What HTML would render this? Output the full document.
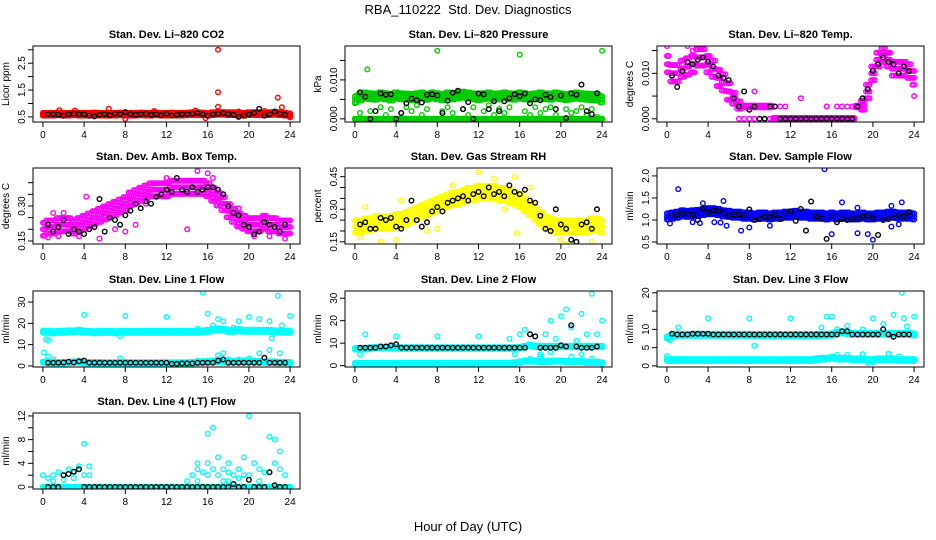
<!DOCTYPE html>
<html><head><meta charset="utf-8"><style>
body{margin:0;background:#fff}
svg{display:block;font-family:"Liberation Sans",sans-serif}
</style></head><body>
<svg id="c" width="936" height="540" viewBox="0 0 936 540">
<rect width="936" height="540" fill="#fff"/>
<text x="468" y="14" text-anchor="middle" font-size="13" xml:space="preserve">RBA_110222  Std. Dev. Diagnostics</text>
<text x="468" y="531" text-anchor="middle" font-size="13">Hour of Day (UTC)</text>
</svg>
<script>
// ---------- data ----------
const hourTicks = [0,4,8,12,16,20,24];
// CO2
const co2Band = [0.6,0.6,0.6,0.61,0.6,0.6,0.61,0.6,0.6,0.6,0.61,0.6,0.6,0.6,0.6,0.61,0.6,0.6,0.6,0.61,0.6,0.6,0.61,0.6,0.6,0.61,0.6,0.6,0.61,0.62,0.62,0.61,0.6,0.62,0.63,0.63,0.62,0.62,0.6,0.6,0.62,0.62,0.62,0.61,0.62,0.63,0.62,0.6,0.58];
const co2Scatter = [[1.6,0.75],[3.1,0.74],[6.4,0.8],[8,0.42],[10.8,0.72],[14.8,0.74],[15.8,0.45],[17,3.0],[17,1.42],[17,0.88],[19,0.7],[21.5,0.72],[22.8,1.22],[23.2,0.86],[24,0.48]];
const co2Black = [0.6,0.6,0.58,0.55,0.6,0.62,0.6,0.6,0.55,0.52,0.58,0.6,0.56,0.62,0.6,0.68,0.6,0.58,0.6,0.62,0.58,0.6,0.56,0.62,0.55,0.58,0.6,0.6,0.62,0.65,0.6,0.55,0.6,0.62,0.64,0.6,0.58,0.5,0.55,0.6,0.65,0.8,0.55,0.6,0.7,0.62,0.58];
// Pressure
const presZero = [0,0,0,0,0,0,0,0,0,0,0,0,0,0,0,0,0,0,0,0,0,0,0,0,0,0,0,0,0,0,0,0,0,0,0,0,0,0,0,0,0,0,0,0,0,0,0,0,0];
const presBand = [0.005,0.0055,0.006,0.0058,0.0057,0.006,0.0058,0.0055,0.006,0.0058,0.0057,0.0056,0.0058,0.006,0.0057,0.006,0.0058,0.0056,0.006,0.0058,0.006,0.0062,0.006,0.0058,0.0056,0.0058,0.006,0.0057,0.0058,0.006,0.0058,0.0057,0.006,0.0058,0.0056,0.0058,0.006,0.0058,0.0057,0.006,0.0058,0.0056,0.0058,0.006,0.0058,0.0057,0.0056,0.0055,0.005];
const presScatter = [[0,0.004],[0.5,0.0015],[1.2,0.0127],[1.5,0.002],[2.5,0.003],[3,0.001],[3.5,0.0025],[4.5,0.0015],[5,0.003],[5.5,0.002],[6,0.0035],[6.5,0.001],[7,0.0025],[8,0.0175],[8.5,0.002],[9,0.003],[9.5,0.0015],[10.5,0.0025],[11,0.001],[11.5,0.003],[12.5,0.002],[13,0.0035],[13.5,0.001],[14,0.0025],[14.5,0.0015],[15,0.003],[16,0.0165],[16.5,0.002],[17,0.001],[17.5,0.003],[18,0.0015],[18.5,0.0025],[19,0.003],[19.5,0.001],[20.5,0.0025],[21,0.0015],[21.5,0.002],[22,0.003],[22.5,0.001],[23,0.0025],[23.5,0.0005],[24,0.0175]];
const presBlack = [0.0068,0.0057,0,0.002,0.0065,0.0062,0.0063,0,0.0015,0.004,0.0052,0.0048,0.0042,0.0062,0.0063,0.006,0.0015,0.0047,0.0067,0.0072,0.0025,0.0043,0,0.0065,0.0063,0.0025,0.0045,0.002,0.0045,0.0053,0.0063,0.0058,0.0065,0.004,0.005,0.0048,0.0062,0.0056,0.0025,0.006,0.0002,0.0065,0.0062,0.0088,0.002,0.0012,0.0066];
// Li-820 temp
const tempBand = [0.012,0.010,0.010,0.011,0.0115,0.012,0.0135,0.0135,0.012,0.011,0.009,0.008,0.006,0.0045,0.003,0.0027,0.0027,0.0027,0.0027,0.0027,0.0027,0,0,0,0,0,0,0,0,0,0,0,0,0,0,0,0,0.0027,0.003,0.006,0.010,0.013,0.014,0.013,0.011,0.011,0.011,0.0105,0.009];
const tempSpread = [0.0018,0.0018,0.0018,0.0018,0.0018,0.0018,0.0018,0.0018,0.0018,0.0018,0.0018,0.0018,0.0018,0.0012,0.0008,0.0002,0.0002,0.0002,0.0002,0.0002,0.0002,0.0002,0.0002,0.0002,0.0002,0.0002,0.0002,0.0002,0.0002,0.0002,0.0002,0.0002,0.0002,0.0002,0.0002,0.0002,0.0002,0.0002,0.001,0.0015,0.0015,0.0015,0.0015,0.0015,0.0015,0.0015,0.0015,0.0015,0.0015];
const tempScatter = [[11,0.0027],[11.5,0.0027],[13,0.0045],[15.5,0.0027],[16.5,0.0027],[17,0.0027],[17.5,0.0027],[18,0.0027],[0,0.016],[2,0.016],[2.5,0.015],[8.5,0.006],[24,0.005],[7,0],[7.5,0],[8,0],[8.5,0],[9,0],[9.5,0],[10,0]];
const tempBlack = [0.0095,0.007,0.0105,0.0125,0.012,0.013,0.0135,0.0125,0.0115,0.0095,0.009,0.0085,0.0045,0.0027,0.006,0.002,0.0027,0,0,0.0027,0.0027,0,0,0,0,0,0,0,0,0,0,0,0,0,0,0,0.0027,0.0045,0.0065,0.0105,0.012,0.0135,0.0125,0.012,0.01,0.0115,0.0105];
// Amb box temp
const ambBand = [0.2,0.21,0.21,0.22,0.22,0.22,0.21,0.22,0.23,0.24,0.25,0.26,0.27,0.28,0.29,0.3,0.31,0.33,0.34,0.35,0.36,0.37,0.37,0.37,0.37,0.38,0.38,0.38,0.38,0.38,0.38,0.38,0.37,0.35,0.33,0.31,0.28,0.26,0.24,0.23,0.22,0.22,0.22,0.23,0.22,0.22,0.21,0.21,0.21];
const ambScatter = [[0.5,0.165],[1.5,0.17],[3.5,0.17],[5.5,0.16],[7,0.2],[8,0.19],[9,0.22],[10,0.31],[12,0.42],[15,0.45],[16,0.44],[14,0.2],[16.5,0.42],[19,0.29],[20.5,0.17],[22,0.17],[23.5,0.16],[4.2,0.34],[2,0.27],[1,0.27]];
const ambBlack = [0.22,0.19,0.21,0.24,0.18,0.2,0.19,0.18,0.2,0.21,0.33,0.19,0.25,0.24,0.22,0.26,0.28,0.31,0.29,0.32,0.31,0.34,0.35,0.37,0.36,0.42,0.37,0.36,0.38,0.36,0.37,0.38,0.38,0.37,0.35,0.3,0.27,0.26,0.22,0.21,0.18,0.19,0.23,0.22,0.21,0.19,0.22];
// RH
const rhBand = [0.22,0.22,0.23,0.23,0.24,0.24,0.24,0.24,0.25,0.25,0.26,0.27,0.28,0.29,0.3,0.31,0.32,0.33,0.34,0.35,0.35,0.36,0.37,0.37,0.38,0.38,0.38,0.38,0.37,0.37,0.36,0.35,0.34,0.32,0.3,0.28,0.26,0.24,0.23,0.22,0.22,0.22,0.22,0.22,0.22,0.22,0.23,0.23,0.22];
const rhScatter = [[0.5,0.17],[1,0.31],[2.5,0.15],[4,0.16],[4.5,0.34],[7,0.2],[8,0.21],[9.5,0.41],[12,0.47],[14.5,0.3],[15.5,0.45],[15.7,0.19],[17,0.4],[20,0.16],[23,0.15],[20.5,0.14],[13.5,0.44]];
const rhBlack = [0.23,0.24,0.21,0.21,0.26,0.25,0.26,0.22,0.21,0.25,0.34,0.25,0.22,0.24,0.29,0.31,0.29,0.33,0.34,0.35,0.36,0.34,0.37,0.38,0.36,0.4,0.37,0.38,0.36,0.41,0.38,0.37,0.39,0.34,0.33,0.27,0.21,0.2,0.3,0.23,0.21,0.16,0.15,0.23,0.24,0.21,0.3];
// Sample flow
const sfBand = [1.08,1.1,1.12,1.15,1.14,1.15,1.16,1.18,1.2,1.2,1.18,1.15,1.14,1.12,1.12,1.1,1.1,1.08,1.1,1.1,1.08,1.1,1.1,1.12,1.12,1.14,1.12,1.12,1.1,1.1,1.1,1.08,1.1,1.08,1.1,1.1,1.08,1.08,1.1,1.08,1.08,1.1,1.1,1.12,1.12,1.1,1.1,1.1,1.08];
const sfScatter = [[1.1,1.7],[15.3,2.15],[20,0.55],[7.2,0.76],[8,0.83],[16,0.68],[18.5,0.7],[19.5,0.68],[2.5,0.95],[3.2,0.93],[5.8,0.87],[10,0.87],[4.6,0.95],[5.2,0.94],[3.5,1.38],[5.5,1.43],[17,1.4],[18.5,1.28],[22.8,1.4],[21.8,1.32],[21.8,0.85],[22.5,0.9],[0.3,0.92]];
const sfBlack = [1.1,1.12,1.15,1.14,1.12,1.0,1.25,1.18,1.22,1.2,1.15,1.1,1.12,1.12,1.1,1.24,1.0,1.02,1.07,1.06,1.12,1.02,1.15,1.2,0.98,1.25,0.76,1.42,1.08,1.03,0.57,1.1,0.95,1.02,1.0,1.02,1.05,1.08,1.1,1.05,0.66,1.0,1.02,1.05,1.1,1.08,1.18];
// Line 1
const l1Band = [16,16,15.8,16,16,16.2,16.2,16.5,16,16,15.8,16,16,16,15.8,16,16,16,16,16,16,16,16,16,16,16,16,16,16,16,16,16.2,16.5,17,17.2,17,16.5,16.5,16.8,16.5,16.5,16.5,16.5,16.5,16.5,16.2,16.2,16,16];
const l1Low = [1.8,1.6,1.5,1.5,1.5,1.6,1.8,1.8,1.6,1.5,1.5,1.5,1.4,1.4,1.4,1.5,1.5,1.4,1.4,1.4,1.4,1.4,1.4,1.4,1.4,1.4,1.4,1.4,1.4,1.5,1.6,1.8,2,2.2,2.2,2.2,2,2,2,2.2,2.2,2,2,1.8,1.8,1.8,1.6,1.6,1.5];
const l1Scatter = [[0.1,6.3],[0.3,12.6],[0.5,12],[0.5,4.5],[4,24],[8,23.5],[7.5,14],[12,23],[15.5,34.5],[16,24.5],[15,17.5],[17,22],[17.5,21],[16.5,19],[18.5,18],[19,21],[20,23],[21,22],[22,21],[22.2,13],[22.8,33],[23.2,19],[24,23.5],[17,5],[17.5,6],[21,6],[22,7.5],[23,6],[1,3],[7.5,3.5],[20,3.5],[19,3],[17,3],[18,3],[15,2.5]];
const l1Black = [1.5,1.5,1.5,1.6,2,1.6,2.2,2.5,1.5,1.5,1.5,1.5,1.5,1.5,1.5,1.5,1.5,1.5,1.5,1.5,1.5,1.5,1.5,1.5,1.0,1.0,1.2,1.2,1.2,1.5,1.5,1.5,1.5,2.5,3,1.5,1.5,1.5,1.5,1.5,1.5,1.5,3.8,1.5,1.5,1.5,1.5];
// Line 2
const l2Band = [7.5,7.5,7.5,7.8,8,8,8,8,8,7.8,7.8,7.8,7.8,7.8,7.8,7.8,7.8,7.8,7.8,7.8,7.8,7.8,7.8,7.8,7.8,7.8,7.8,7.8,7.8,7.8,7.8,7.8,8,8.5,9,8.5,8.5,8.5,8.5,8.5,8.5,8.5,8.5,8.5,8.5,8.5,8.5,8.5,8.5];
const l2Low = [1,1,1,1,1,1,1,1,1,1,1,1,1,1,1,1,1,1,1,1,1,1,1,1,1,1,1,1,1,1,1,1.2,1.5,2,2,2,1.8,1.8,2,2,2,1.8,1.8,1.8,1.8,1.5,1.5,1.5,1.2];
const l2Scatter = [[0.5,5],[1,14],[4,13],[8,13],[12,13],[15,12],[15.5,5],[16,14],[16.5,16],[17,9],[17.5,13],[18,5],[18.5,14],[19,20],[19.5,12],[20,22],[20.5,25],[21,17],[21.5,11],[22,23],[22.5,14],[23,32],[23.5,14],[24,20],[16,2],[17,3],[18,4],[19,6],[20,2],[21,4],[22,5],[23,3]];
const l2Black = [8,8,8,8,8.5,8.5,9,9.5,8,8,8,8,8,8,8,8,8,8,8,8,8,8,8,8,8,8,8,8,8,8,8,8,8,14,13,8,8,8,8,9,8.5,18,8.5,8,8,8,8.5];
// Line 3
const l3Band = [7.8,8.2,8.5,8.5,8.5,8.5,8.5,8.5,8.5,8.5,8.5,8.5,8.5,8.5,8.5,8.5,8.5,8.4,8.4,8.4,8.4,8.4,8.4,8.4,8.4,8.4,8.4,8.4,8.4,8.4,8.5,8.5,8.6,9,9.2,9,8.8,8.8,8.8,8.8,8.8,8.8,8.8,8.8,8.8,8.8,8.8,8.8,8.6];
const l3Low = [1.6,1.6,1.6,1.6,1.6,1.6,1.6,1.6,1.6,1.6,1.6,1.6,1.6,1.6,1.6,1.6,1.6,1.6,1.6,1.6,1.6,1.6,1.6,1.6,1.6,1.6,1.6,1.6,1.6,1.8,2,2,2.2,2,2,2,1.8,1.8,1.8,1.6,1.6,1.8,1.8,1.8,1.8,1.6,1.6,1.6,1.6];
const l3Scatter = [[1.1,10.5],[4,13],[8,13],[8.5,5.5],[12,13],[15,10.5],[15.5,13.5],[16,13.5],[17.5,11],[16.5,10],[19,10],[20,13],[21,11.5],[22,14],[22.8,20],[23,13],[23.3,10.8],[24,13.5],[0,7.5],[0.3,7],[0,2.7],[16.5,3],[17.5,3],[19,3.2],[21.5,3.3],[22.5,2.6],[20,1],[19.5,0.8]];
const l3Black = [8.8,8.6,8.6,8.6,8.8,8.8,8.8,8.8,8.6,8.6,8.6,8.6,8.6,8.6,8.6,8.6,8.6,8.6,8.6,8.6,8.6,8.6,8.6,8.6,8.6,8.6,8.6,8.6,8.6,8.6,8.6,8.6,8.6,9.5,9.5,8.6,8.6,8.6,8.6,8.6,8.6,10,8.6,8,8.6,8.6,8.6];
// Line 4
const l4Band = [0,0,0,0,0,0,0,0,0,0,0,0,0,0,0,0,0,0,0,0,0,0,0,0,0,0,0,0,0,0,0,0,0,0,0,0,0,0,0,0,0,0,0,0,0,0,0,0,0];
const l4Scatter = [[0,2],[0.5,1.5],[1,2],[1.5,2.5],[2,2],[2.5,3],[3,2.5],[3.5,3.5],[4,7.3],[4.5,3.5],[4,2],[3,1.5],[4.5,2],[1,1],[2,1.2],[14.5,2],[15,3],[15,4],[15.5,2.5],[16,9],[16.5,10],[16,4],[16.5,3],[17,5],[17,2],[17.5,3],[18,4],[18,2.5],[18.5,2],[19,3],[19.5,5],[19.5,2],[20,12],[20.5,4],[21,3],[21.5,2.5],[22,8.5],[22.5,8],[22.5,4],[23,3],[23.5,2],[14,1],[15,1],[18,1],[21,1],[16,2],[19,1.5],[20,2],[22,2.5],[17.5,1],[23,6]];
const l4Black = [0,0,0,2,2.2,2.6,3,0,0,0,0,0,0,0,0,0,0,0,0,0,0,0,0,0,0,0,0,0,0,0,0,0,0,0,0,0,0.5,0,0,1.2,0,0,0,2.5,0.3,0,0];

// ---------- layout ----------
const NS = 'http://www.w3.org/2000/svg';
const svg = document.getElementById('c');
const colX = [33, 345, 657], rowY = [46, 168, 291, 413], PW = 267, PH = 76;
const XMIN = -0.96, XMAX = 24.96;
const panels = [
 {name:'co2', title:'Stan. Dev. Li\u2013820 CO2', ylab:'Licor ppm', c:0,r:0, ymin:0.31,ymax:3.14, ticks:[0.5,1,1.5,2,2.5,3], labels:['0.5','','1.5','','2.5',''], col:'#ff0000',
  bands:[[co2Band,0.05]], scatter:co2Scatter, black:co2Black},
 {name:'pressure', title:'Stan. Dev. Li\u2013820 Pressure', ylab:'kPa', c:1,r:0, ymin:-0.0008,ymax:0.0187, ticks:[0,0.005,0.01,0.015], labels:['0.000','','0.010',''], col:'#00cc00',
  bands:[[presZero,0.00005],[presBand,0.0008]], scatter:presScatter, black:presBlack},
 {name:'li820-temp', title:'Stan. Dev. Li\u2013820 Temp.', ylab:'degrees C', c:2,r:0, ymin:-0.0007,ymax:0.016, ticks:[0,0.005,0.01,0.015], labels:['0.000','','0.010',''], col:'#ff00ff',
  bands:[[tempBand,tempSpread]], scatter:tempScatter, black:tempBlack},
 {name:'amb-box-temp', title:'Stan. Dev. Amb. Box Temp.', ylab:'degrees C', c:0,r:1, ymin:0.137,ymax:0.463, ticks:[0.15,0.2,0.25,0.3,0.35,0.4], labels:['0.15','','','0.30','',''], col:'#ff00ff',
  bands:[[ambBand,0.028]], scatter:ambScatter, black:ambBlack},
 {name:'gas-rh', title:'Stan. Dev. Gas Stream RH', ylab:'percent', c:1,r:1, ymin:0.14,ymax:0.49, ticks:[0.15,0.2,0.25,0.3,0.35,0.4,0.45], labels:['0.15','','','0.30','','','0.45'], col:'#ffff00',
  bands:[[rhBand,0.028]], scatter:rhScatter, black:rhBlack},
 {name:'sample-flow', title:'Stan. Dev. Sample Flow', ylab:'ml/min', c:2,r:1, ymin:0.455,ymax:2.18, ticks:[0.5,1,1.5,2], labels:['0.5','1.0','1.5','2.0'], col:'#0000ff',
  bands:[[sfBand,0.07]], scatter:sfScatter, black:sfBlack},
 {name:'line1-flow', title:'Stan. Dev. Line 1 Flow', ylab:'ml/min', c:0,r:2, ymin:-0.5,ymax:35.2, ticks:[0,10,20,30], labels:['0','10','20','30'], col:'#00ffff',
  bands:[[l1Band,0.5],[l1Low,0.35]], scatter:l1Scatter, black:l1Black},
 {name:'line2-flow', title:'Stan. Dev. Line 2 Flow', ylab:'ml/min', c:1,r:2, ymin:-0.6,ymax:33.2, ticks:[0,10,20,30], labels:['0','10','20','30'], col:'#00ffff',
  bands:[[l2Band,0.35],[l2Low,0.3]], scatter:l2Scatter, black:l2Black},
 {name:'line3-flow', title:'Stan. Dev. Line 3 Flow', ylab:'ml/min', c:2,r:2, ymin:-0.3,ymax:20.5, ticks:[0,5,10,15,20], labels:['0','5','10','','20'], col:'#00ffff',
  bands:[[l3Band,0.3],[l3Low,0.25]], scatter:l3Scatter, black:l3Black},
 {name:'line4-flow', title:'Stan. Dev. Line 4 (LT) Flow', ylab:'ml/min', c:0,r:3, ymin:-0.34,ymax:12.5, ticks:[0,2,4,6,8,10,12], labels:['0','','4','','8','','12'], col:'#00ffff',
  bands:[[l4Band,0.05]], scatter:l4Scatter, black:l4Black}
];

function mk(tag, attrs, parent){ const e=document.createElementNS(NS,tag); for(const k in attrs) e.setAttribute(k,attrs[k]); (parent||svg).appendChild(e); return e; }

panels.forEach(p=>{
  const L=colX[p.c], T=rowY[p.r];
  const xs=h=>L+(h-XMIN)/(XMAX-XMIN)*PW;
  const ys=v=>T+PH-(v-p.ymin)/(p.ymax-p.ymin)*PH;
  const g=mk('g',{});
  
  
  const clip=mk('clipPath',{id:'cl-'+p.name},g); mk('rect',{x:L,y:T,width:PW,height:PH},clip);
  const pts=mk('g',{'clip-path':'url(#cl-'+p.name+')',fill:'none','stroke-width':1.4},g);
  
  
  function dot(h,v,col){ const e=mk('circle',{cx:xs(h).toFixed(1),cy:ys(v).toFixed(1),r:2.3,stroke:col},pts);
    
     }
  p.bands.forEach(([arr,sp])=>{
    arr.forEach((v,i)=>{ const h=i*24/(arr.length-1); const s=Array.isArray(sp)?sp[i]:sp;
      [-0.17,0,0.17].forEach(dx=>{ [-1,0,1].forEach(k=>{ const hh=h+dx; if(hh<0||hh>24) return; dot(hh,v+k*s,p.col); }); }); });
  });
  p.scatter.forEach(([h,v])=>dot(h,v,p.col));
  p.black.forEach((v,i)=>dot(0.5+i*23/(p.black.length-1),v,'#000'));
  const box=mk('rect',{x:L,y:T,width:PW,height:PH,fill:'none',stroke:'#000','stroke-width':1},g);
  
  
  const t=mk('text',{x:L+PW/2,y:T-8,'text-anchor':'middle','font-size':11,'font-weight':'bold'},g); t.textContent=p.title;
  
  
  const yl=mk('text',{x:0,y:0,'text-anchor':'middle','font-size':10,transform:`translate(${L-24},${T+PH/2}) rotate(-90)`},g); yl.textContent=p.ylab;
  
  
  const xa=mk('g',{stroke:'#000','stroke-width':1},g);
  
  
  mk('line',{x1:xs(0),x2:xs(24),y1:T+PH,y2:T+PH},xa);
  hourTicks.forEach(h=>{ mk('line',{x1:xs(h),x2:xs(h),y1:T+PH,y2:T+PH+5},xa);
    const tx=mk('text',{x:xs(h),y:T+PH+16,'text-anchor':'middle','font-size':10,stroke:'none'},xa); tx.textContent=h;
    
     });
  const ya=mk('g',{stroke:'#000','stroke-width':1},g);
  
  
  mk('line',{x1:L,x2:L,y1:ys(p.ticks[0]),y2:ys(p.ticks[p.ticks.length-1])},ya);
  p.ticks.forEach((v,i)=>{ mk('line',{x1:L-5,x2:L,y1:ys(v),y2:ys(v)},ya);
    if(p.labels[i]){ const tx=mk('text',{x:0,y:0,'text-anchor':'middle','font-size':10,stroke:'none',transform:`translate(${L-8},${ys(v)}) rotate(-90)`},ya); tx.textContent=p.labels[i];
      
       } });
});
</script>
</body></html>
